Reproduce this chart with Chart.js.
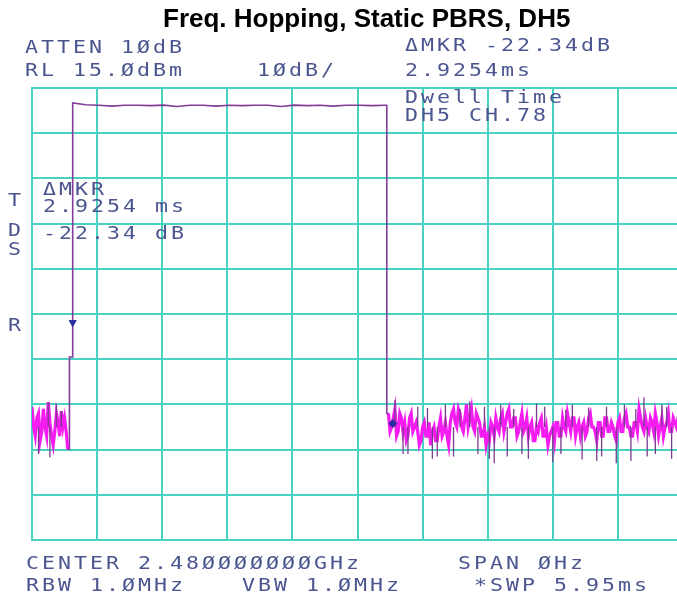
<!DOCTYPE html>
<html>
<head>
<meta charset="utf-8">
<script src="https://cdn.jsdelivr.net/npm/chart.js@4"></script>
<style>
  html, body { margin: 0; padding: 0; background: #fff; overflow: hidden; }
  body { width: 677px; height: 598px; position: relative; }
  #scope { position: absolute; left: 0; top: 0; }
  .title {
    position: absolute; left: 163px; top: 5px;
    font: bold 26px "Liberation Sans", Arial, sans-serif; color: #000;
    line-height: 26px; white-space: nowrap;
  }
  .lbl {
    position: absolute; white-space: pre;
    font: 18px "DejaVu Sans Mono", monospace; line-height: 18px;
    letter-spacing: 2.5px; color: #4b5590;
    transform: scaleX(1.2); transform-origin: 0 0;
  }
</style>
</head>
<body>
<canvas id="scope" width="700" height="598"></canvas>

<div class="title">Freq. Hopping, Static PBRS, DH5</div>

<div class="lbl" style="left:25px;top:38px">ATTEN 1ØdB</div>
<div class="lbl" style="left:25px;top:61px">RL 15.ØdBm</div>
<div class="lbl" style="left:257px;top:61px">1ØdB/</div>
<div class="lbl" style="left:405px;top:36px">ΔMKR -22.34dB</div>
<div class="lbl" style="left:405px;top:61px">2.9254ms</div>
<div class="lbl" style="left:405px;top:88px">Dwell Time</div>
<div class="lbl" style="left:405px;top:106px">DH5 CH.78</div>

<div class="lbl" style="left:43px;top:180px">ΔMKR</div>
<div class="lbl" style="left:43px;top:197px">2.9254 ms</div>
<div class="lbl" style="left:43px;top:224px">-22.34 dB</div>

<div class="lbl" style="left:8px;top:191px">T</div>
<div class="lbl" style="left:8px;top:221px">D</div>
<div class="lbl" style="left:8px;top:240px">S</div>
<div class="lbl" style="left:8px;top:316px">R</div>

<div class="lbl" style="left:26px;top:554px">CENTER 2.48ØØØØØØØGHz</div>
<div class="lbl" style="left:458px;top:554px">SPAN ØHz</div>
<div class="lbl" style="left:26px;top:576px">RBW 1.ØMHz</div>
<div class="lbl" style="left:242px;top:576px">VBW 1.ØMHz</div>
<div class="lbl" style="left:474px;top:576px">*SWP 5.95ms</div>

<script>
// sweep setup: zero span, 401 trace points over the sweep time
const SWEEP_MS = 5.95;
const SWEEP_POINTS = 401;
const REF_LEVEL = 15;      // dBm, top graticule line
const DB_PER_DIV = 10;
const DIVS = 10;
const dt = SWEEP_MS / (SWEEP_POINTS - 1);

// noise before the burst: even trace points 0..22, odd points 1..21
const preNoiseEven = [-55.6, -62, -57, -61, -60, -54.5, -62, -61, -59, -56.5, -58, -64.9];
const preNoiseOdd  = [-60, -58, -63, -56, -62, -59, -64, -57, -62, -60, -61];
// rising edge
const riseIdx = 23;
const riseShoulder = -44.5;
// burst top, every 8th trace point starting at 25
const topStartIdx = 25;
const topLevels = [11.7, 11.3, 11.2, 11.0, 11.2, 11.2, 11.1, 11.2, 10.9, 11.2, 11.2, 11.0, 11.2,
                   11.1, 11.2, 11.2, 10.9, 11.2, 11.1, 11.2, 11.0, 11.2, 11.2, 11.1, 11.2];
const fallIdx = 218;
// noise after the burst: odd trace points 219..399, even points 220..398
const postStartIdx = 219;
const postNoiseOdd = [
  -57, -60, -56, -61, -58, -59, -62, -57, -60,
  -61, -63, -59, -62, -64, -60, -63, -58, -61, -62,
  -59, -56, -60, -57, -61, -55, -58, -60, -57, -59,
  -62, -64, -63, -60, -58, -61, -57, -59, -56, -60,
  -58, -61, -57, -60, -62, -59, -63, -61, -58, -62,
  -64, -61, -63, -59, -62, -60, -57, -61, -58, -60,
  -62, -59, -61, -57, -60, -63, -59, -62, -58, -61,
  -60, -63, -58, -61, -57, -60, -62, -59, -56, -60,
  -58, -61, -59, -57, -62, -58, -60, -57, -61, -59, -58, -60
];
const postNoiseEven = [
  -61, -58, -62, -57, -61, -63, -58, -61, -59,
  -64, -60, -62, -59, -61, -63, -60, -62, -59, -64,
  -57, -59, -56, -60, -58, -60, -56, -61, -58, -62,
  -60, -62, -59, -62, -60, -58, -61, -57, -60, -58,
  -62, -59, -61, -58, -60, -63, -60, -59, -62, -60,
  -62, -60, -59, -62, -58, -61, -59, -58, -62, -59,
  -60, -62, -58, -60, -61, -59, -62, -58, -61, -59,
  -62, -59, -61, -58, -60, -62, -59, -61, -58, -61,
  -60, -58, -61, -59, -60, -62, -59, -61, -58, -60
];
// single-sample peaks that stick out of the noise band
const spikeIdx = [4, 10, 11, 15, 18,
  223, 228, 231, 237, 243, 246, 249, 254, 259, 263,
  269, 274, 278, 281, 284, 288, 292, 296, 301, 305,
  310, 315, 320, 325, 328, 332, 338, 342, 347, 350,
  353, 359, 364, 368, 371, 376, 378, 383, 387, 390,
  393, 397];
const spikeLevels = [-66, -54.5, -66.7, -55, -56.5,
  -54, -66, -66, -55.5, -55.8, -67, -66.5, -55, -66.5, -56,
  -54.3, -66, -55.5, -67, -68, -55, -66.5, -56, -66, -67,
  -54.8, -55.5, -67.8, -66, -56.2, -55, -67.2, -55.7, -67.5, -66.5,
  -55.5, -68, -55, -67.5, -56, -53.5, -66.5, -66, -55, -55.5,
  -67, -66.8];
const noiseFloor = -60;

// marker readout
const refMarkerMs = 0.372;
const refMarkerDb = -36.9;
const deltaMs = 2.9254;
const deltaDb = -22.34;

const yMin = REF_LEVEL - DB_PER_DIV * DIVS;
const ms = i => i * dt;

// interleave even/odd samples into one sorted run
function merge(firstIdx, first, second) {
    const out = [];
    for (let i = 0; i < first.length; i++) {
        out.push({ x: ms(firstIdx + i * 2), y: first[i] });
        if (i < second.length) out.push({ x: ms(firstIdx + i * 2 + 1), y: second[i] });
    }
    return out;
}

const preNoise = merge(0, preNoiseEven, preNoiseOdd);
const postNoise = merge(postStartIdx, postNoiseOdd, postNoiseEven);

// full trace
const trace = preNoise.slice();
trace.push({ x: ms(riseIdx), y: preNoiseEven[preNoiseEven.length - 1] });
trace.push({ x: ms(riseIdx), y: riseShoulder });
trace.push({ x: ms(topStartIdx), y: riseShoulder });
topLevels.forEach((v, i) => trace.push({ x: ms(topStartIdx + i * 8), y: v }));
trace.push({ x: ms(fallIdx), y: topLevels[topLevels.length - 1] });
trace.push({ x: ms(fallIdx), y: postNoiseOdd[0] });
trace.push(...postNoise);

// bright noise band
const band = preNoise.concat([{ x: ms(22.5), y: null }], postNoise);

// spikes as separate vertical strokes
const spikes = [];
spikeIdx.forEach((idx, i) => {
    spikes.push({ x: ms(idx), y: noiseFloor });
    spikes.push({ x: ms(idx), y: spikeLevels[i] });
    spikes.push({ x: ms(idx) + dt / 4, y: null });
});

const markers = [
    { x: refMarkerMs, y: refMarkerDb },
    { x: refMarkerMs + deltaMs, y: refMarkerDb + deltaDb }
];

const gridColor = "#48d2c2";

new Chart(document.getElementById("scope"), {
    type: "line",
    data: {
        datasets: [
            {
                data: markers,
                showLine: false,
                pointStyle: ["triangle", "rectRot"],
                rotation: [180, 0],
                pointRadius: [4, 4],
                pointBackgroundColor: "#2b2ca0",
                pointBorderColor: "#2b2ca0",
                order: 0
            },
            {
                data: spikes,
                borderColor: "#7a3c8e",
                borderWidth: 1.3,
                pointRadius: 0,
                spanGaps: false,
                order: 1
            },
            {
                data: band,
                borderColor: "#f41cf0",
                borderWidth: 3.2,
                pointRadius: 0,
                spanGaps: false,
                order: 2
            },
            {
                data: trace,
                borderColor: "#823d98",
                borderWidth: 1.6,
                pointRadius: 0,
                order: 3
            }
        ]
    },
    options: {
        responsive: false,
        animation: false,
        layout: { padding: { left: 32, top: 88, right: 17, bottom: 58 } },
        plugins: { legend: { display: false }, tooltip: { enabled: false } },
        elements: { line: { tension: 0 } },
        scales: {
            x: {
                type: "linear",
                min: 0,
                max: SWEEP_MS,
                afterBuildTicks: s => {
                    s.ticks = Array.from({ length: DIVS + 1 }, (_, i) => ({ value: i * SWEEP_MS / DIVS }));
                },
                ticks: { display: false },
                grid: { color: gridColor, lineWidth: 2, drawTicks: false },
                border: { color: gridColor, width: 2 }
            },
            y: {
                min: yMin,
                max: REF_LEVEL,
                afterBuildTicks: s => {
                    s.ticks = Array.from({ length: DIVS + 1 }, (_, i) => ({ value: yMin + i * DB_PER_DIV }));
                },
                ticks: { display: false },
                grid: { color: gridColor, lineWidth: 2, drawTicks: false },
                border: { color: gridColor, width: 2 }
            }
        }
    }
});
</script>
</body>
</html>
